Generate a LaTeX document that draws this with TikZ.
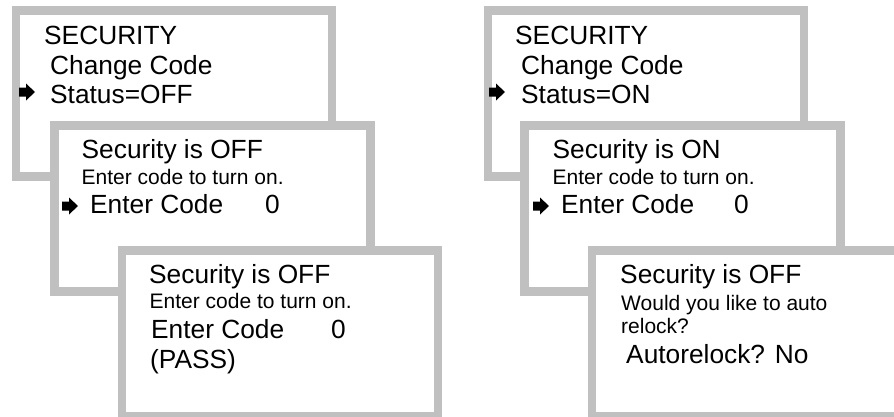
\documentclass[tikz,border=0pt]{standalone}
\usepackage{fontspec}
\setmainfont{Liberation Sans}
\definecolor{frame}{RGB}{192,192,192}
\begin{document}
\begin{tikzpicture}[x=1pt,y=-1pt,
  screen/.style={draw=frame,line width=8.5pt,fill=white,rectangle,inner sep=0pt,
    minimum width=316pt,minimum height=166pt,anchor=north west},
  big/.style={anchor=base west,inner sep=0pt,font=\fontsize{26.3}{30}\selectfont},
  small/.style={anchor=base west,inner sep=0pt,font=\fontsize{21}{24}\selectfont},
  pointer/.style={fill=black,draw=none}]
\useasboundingbox (0,0) rectangle (894,416);
\newcommand{\ptr}[3]{% name, x, y(center)
  \coordinate (#1) at (#2,#3);
  \fill[pointer] (#1) ++(0,-4.5) -- ++(7,0) -- ++(0,-4) -- ++(9,8.5) -- ++(-9,8.5) -- ++(0,-4) -- ++(-7,0) -- cycle;}
% ---------- left column ----------
\node[screen] (L1) at (11.5,6) {};
\node[big] (L1a) at (44,44) {SECURITY};
\node[big] (L1b) at (50,74) {Change Code};
\node[big] (L1c) at (50,103) {Status=OFF};
\ptr{L1p}{19}{92}
\node[screen] (L2) at (50,121) {};
\node[big] (L2a) at (81.5,158) {Security is OFF};
\node[small] (L2b) at (81.5,184) {Enter code to turn on.};
\node[big] (L2c) at (90,213) {\makebox[175pt][l]{Enter Code}0};
\ptr{L2p}{62}{206}
\node[screen] (L3) at (117.5,246) {};
\node[big] (L3a) at (149,283) {Security is OFF};
\node[small] (L3b) at (149.5,308) {Enter code to turn on.};
\node[big] (L3c) at (151,338) {\makebox[180pt][l]{Enter Code}0};
\node[big] (L3d) at (150,368) {(PASS)};
% ---------- right column ----------
\node[screen] (R1) at (483.5,6) {};
\node[big] (R1a) at (515,44) {SECURITY};
\node[big] (R1b) at (521,74) {Change Code};
\node[big] (R1c) at (521,103) {Status=ON};
\ptr{R1p}{489}{92}
\node[screen] (R2) at (520,121) {};
\node[big] (R2a) at (552.5,158) {Security is ON};
\node[small] (R2b) at (552.5,184) {Enter code to turn on.};
\node[big] (R2c) at (561,213) {\makebox[173pt][l]{Enter Code}0};
\ptr{R2p}{533}{206}
\node[screen] (R3) at (587.5,246) {};
\node[big] (R3a) at (620,283) {Security is OFF};
\node[small] (R3b) at (621,310) {Would you like to auto};
\node[small] (R3c) at (621,333) {relock?};
\node[big] (R3d) at (626,363) {Autorelock? No};
\end{tikzpicture}
\end{document}
